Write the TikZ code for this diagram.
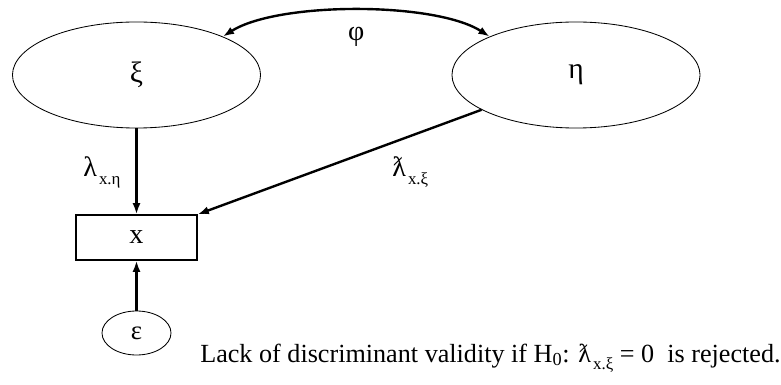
\documentclass[tikz,border=0pt]{standalone}
\usepackage{fontspec}
\setmainfont{Liberation Serif}
\usepackage{tikz}
\usetikzlibrary{arrows.meta,shapes.geometric}
\newcommand{\lowsub}[1]{\kern1.5pt\raisebox{-0.6ex}{\fontsize{12}{13}\selectfont #1}}
\tikzset{
  semlatent/.style={
    ellipse,
    draw,
    line width=0.6pt,
    inner sep=0pt,
    font=\fontsize{21}{24}\selectfont,
    minimum width=6.2cm,
    minimum height=2.65cm
  },
  semerror/.style={semlatent,font=\fontsize{19}{22}\selectfont,minimum width=1.725cm,minimum height=1.1cm},
  semmanifest/.style={draw,line width=0.9pt,font=\fontsize{20}{22}\selectfont,minimum width=3.025cm,minimum height=1.125cm},
  semload/.style={-{Latex[length=2.8mm,width=2mm]},line width=1.7pt},
  semcov/.style={{Latex[length=2.8mm,width=2mm]}-{Latex[length=2.8mm,width=2mm]},line width=1.7pt},
  semtext/.style={font=\fontsize{18.6}{22}\selectfont,inner sep=0pt}
}
\begin{document}
\begin{tikzpicture}[x=0.025cm,y=-0.025cm,every node/.style={semtext}]
  \useasboundingbox (0,0) rectangle (781,385);

  \node[semlatent] (xi) at (136.5,75) {\raisebox{-8pt}{ξ}};
  \node[semlatent] (eta) at (576,75) {\raisebox{-6pt}{η}};
  \node[semmanifest] (x) at (136.5,237.5) {\raisebox{-2pt}{x}};
  \node[semerror] (eps) at (136.5,333) {\raisebox{-4pt}{ε}};

  \draw[semcov] (xi.24) .. controls +(55,-35) and +(-55,-35) .. (eta.156)
    node[pos=0.5,below=11pt,font=\fontsize{20}{22}\selectfont] (phi) {φ};
  \draw[semload] (xi) -- (x);
  \draw[semload] (eta) -- (x.north east);
  \draw[semload] (eps) -- (x);

  \node[anchor=base west,font=\fontsize{20}{22}\selectfont] (lxeta) at (83,177) {λ\lowsub{x.η}};
  \node[anchor=base west,font=\fontsize{20}{22}\selectfont] (lxxi) at (392,177) {ƛ\lowsub{x.ξ}};
  \node[anchor=base west] (note) at (200,362)
    {Lack of discriminant validity if H\textsubscript{0}: ƛ\lowsub{x.ξ} = 0\ \ is rejected.};
\end{tikzpicture}
\end{document}
